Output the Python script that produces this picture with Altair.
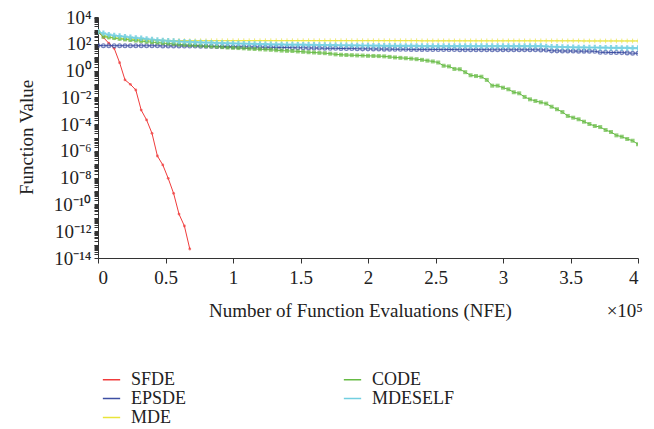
import altair as alt
import pandas as pd

# x grid: function evaluations, one sample every 4000 NFE
nfe = list(range(0, 400001, 4000))

# log10 of function value
sfde_log = [2.90, 2.47, 2.04, 1.66, 0.59, -0.70, -1.03, -1.45, -2.95, -3.69,
            -4.69, -6.38, -7.05, -8.05, -9.17, -10.72, -11.61, -13.33]

epsde_log = [1.87, 1.86, 1.86, 1.86, 1.86, 1.85, 1.85, 1.85, 1.85, 1.85,
             1.85, 1.85, 1.84, 1.84, 1.84, 1.84, 1.83, 1.83, 1.83, 1.82,
             1.82, 1.81, 1.80, 1.80, 1.79, 1.78, 1.78, 1.77, 1.76, 1.76,
             1.75, 1.74, 1.74, 1.73, 1.72, 1.72, 1.71, 1.70, 1.70, 1.69,
             1.68, 1.68, 1.67, 1.66, 1.66, 1.65, 1.64, 1.64, 1.63, 1.62,
             1.62, 1.61, 1.61, 1.60, 1.60, 1.59, 1.59, 1.59, 1.58, 1.58,
             1.58, 1.58, 1.57, 1.57, 1.57, 1.57, 1.57, 1.56, 1.56, 1.56,
             1.56, 1.56, 1.56, 1.55, 1.55, 1.55, 1.55, 1.55, 1.55, 1.55,
             1.55, 1.55, 1.54, 1.54, 1.47, 1.47, 1.46, 1.46, 1.46, 1.45,
             1.45, 1.45, 1.44, 1.36, 1.36, 1.35, 1.35, 1.34, 1.32, 1.30,
             1.29]

mde_log = [2.90, 2.62, 2.50, 2.44, 2.40, 2.37, 2.34, 2.32, 2.30, 2.28,
           2.27, 2.26, 2.25, 2.25, 2.24, 2.24, 2.24, 2.23, 2.23, 2.23,
           2.23, 2.23, 2.23, 2.23, 2.23, 2.23, 2.23, 2.23, 2.23, 2.23,
           2.23, 2.23, 2.23, 2.23, 2.23, 2.23, 2.23, 2.23, 2.23, 2.23,
           2.23, 2.23, 2.23, 2.23, 2.23, 2.23, 2.23, 2.23, 2.23, 2.23,
           2.23, 2.23, 2.23, 2.23, 2.23, 2.23, 2.23, 2.23, 2.23, 2.23,
           2.22, 2.22, 2.22, 2.22, 2.22, 2.22, 2.22, 2.22, 2.22, 2.22,
           2.22, 2.22, 2.22, 2.22, 2.22, 2.22, 2.22, 2.22, 2.22, 2.22,
           2.22, 2.22, 2.22, 2.22, 2.22, 2.22, 2.22, 2.22, 2.22, 2.22,
           2.21, 2.21, 2.21, 2.21, 2.21, 2.21, 2.21, 2.21, 2.21, 2.21,
           2.21]

code_log = [2.90, 2.53, 2.48, 2.43, 2.37, 2.33, 2.28, 2.24, 2.20, 2.16,
            2.12, 2.09, 2.05, 2.02, 1.99, 1.95, 1.92, 1.90, 1.88, 1.86,
            1.82, 1.80, 1.78, 1.75, 1.72, 1.70, 1.68, 1.66, 1.63, 1.61,
            1.59, 1.57, 1.55, 1.52, 1.49, 1.47, 1.46, 1.43, 1.40, 1.37,
            1.35, 1.32, 1.30, 1.26, 1.21, 1.18, 1.16, 1.15, 1.13, 1.12,
            1.10, 1.09, 1.08, 1.06, 1.02, 0.98, 0.95, 0.92, 0.89, 0.85,
            0.80, 0.74, 0.68, 0.60, 0.36, 0.31, 0.12, 0.10, -0.12, -0.35,
            -0.41, -0.46, -0.70, -1.13, -1.13, -1.28, -1.40, -1.62, -1.70, -1.97,
            -2.15, -2.27, -2.37, -2.47, -2.70, -2.89, -3.10, -3.39, -3.52, -3.64,
            -3.82, -3.99, -4.14, -4.22, -4.44, -4.59, -4.84, -4.94, -5.11, -5.24,
            -5.51]

mdeself_log = [2.90, 2.78, 2.68, 2.62, 2.58, 2.53, 2.48, 2.44, 2.41, 2.36,
               2.32, 2.28, 2.25, 2.22, 2.20, 2.17, 2.15, 2.14, 2.12, 2.10,
               2.09, 2.08, 2.06, 2.05, 2.04, 2.03, 2.02, 2.01, 2.00, 1.99,
               1.98, 1.97, 1.96, 1.95, 1.95, 1.94, 1.94, 1.93, 1.93, 1.92,
               1.92, 1.91, 1.91, 1.90, 1.90, 1.89, 1.89, 1.88, 1.88, 1.87,
               1.87, 1.86, 1.86, 1.85, 1.85, 1.85, 1.84, 1.84, 1.84, 1.84,
               1.83, 1.83, 1.83, 1.83, 1.83, 1.83, 1.83, 1.83, 1.83, 1.83,
               1.83, 1.83, 1.83, 1.83, 1.83, 1.83, 1.83, 1.83, 1.83, 1.83,
               1.83, 1.83, 1.83, 1.80, 1.78, 1.77, 1.76, 1.75, 1.74, 1.73,
               1.73, 1.72, 1.72, 1.71, 1.71, 1.70, 1.70, 1.69, 1.69, 1.68,
               1.68]

series_names = ["SFDE", "EPSDE", "MDE", "CODE", "MDESELF"]
series_colors = ["#f03c3c", "#3d4fa3", "#e9e43a", "#66bb44", "#72cfe0"]

y_labels = ["10⁻¹⁴", "10⁻¹²", "10⁻¹⁰", "10⁻⁸", "10⁻⁶", "10⁻⁴", "10⁻²", "10⁰", "10²", "10⁴"]
x_ticks = [0, 50000, 100000, 150000, 200000, 250000, 300000, 350000, 400000]

rows = []
for name, vals in zip(series_names, [sfde_log, epsde_log, mde_log, code_log, mdeself_log]):
    for i, v in enumerate(vals):
        rows.append({"series": name, "nfe": nfe[i], "value": 10 ** v})
df = pd.DataFrame(rows)

color_map = dict(zip(series_names, series_colors))
font = "Liberation Serif"
fs = 19

label_js = "[" + ",".join("'" + s + "'" for s in y_labels) + "]"
y_label_expr = (
    "(abs(log(datum.value)/LN10 - round(log(datum.value)/LN10)) < 0.001 && "
    "round(log(datum.value)/LN10) % 2 == 0) ? "
    + label_js + "[(round(log(datum.value)/LN10) + 14) / 2] : ''"
)

x_enc = alt.X(
    "nfe:Q",
    scale=alt.Scale(domain=[0, 400000], nice=False),
    axis=alt.Axis(
        values=x_ticks,
        labelExpr="format(datum.value/100000, '~g')",
        title="Number of Function Evaluations (NFE)",
        titlePadding=14,
        titleX=262,
        labelPadding=5,
        tickSize=5,
        grid=False,
    ),
)
y_enc = alt.Y(
    "value:Q",
    scale=alt.Scale(type="log", domain=[1e-14, 1e4], nice=False),
    axis=alt.Axis(
        tickCount=40,
        labelExpr=y_label_expr,
        labelOverlap=False,
        title="Function Value",
        titleX=-72,
        titleY=120,
        titleBaseline="middle",
        tickSize=4,
        labelPadding=3,
        grid=False,
    ),
)

base = alt.Chart(df)

lines = base.mark_line(strokeWidth=1, clip=True).encode(
    x=x_enc,
    y=y_enc,
    color=alt.Color(
        "series:N",
        scale=alt.Scale(domain=series_names, range=series_colors),
        legend=alt.Legend(
            title=None,
            orient="none",
            legendX=4,
            legendY=353,
            columns=2,
            columnPadding=153,
            rowPadding=0,
            symbolType="stroke",
            symbolSize=300,
            symbolStrokeWidth=1.5,
            labelFont=font,
            labelFontSize=18,
            labelColor="#222222",
            labelOffset=10,
        ),
    ),
    order="nfe:Q",
)

plus_path = "M-1,0H1M0,-1V1"
marker_specs = {
    "SFDE": dict(shape="circle", size=8, filled=True),
    "EPSDE": dict(shape="circle", size=14, filled=False, strokeWidth=1.3),
    "MDE": dict(shape=plus_path, size=22, filled=False, strokeWidth=1),
    "CODE": dict(shape="square", size=16, filled=True),
    "MDESELF": dict(shape="cross", size=30, filled=True, opacity=0.85),
}

point_layers = []
for name in series_names:
    spec = dict(marker_specs[name])
    point_layers.append(
        base.transform_filter(alt.datum.series == name)
        .mark_point(color=color_map[name], clip=True, **spec)
        .encode(x="nfe:Q", y="value:Q")
    )

xlabel = alt.Chart(pd.DataFrame({"t": ["×10⁵"]})).mark_text(
    font=font, fontSize=fs, align="right", baseline="middle", color="#222222"
).encode(x=alt.value(545), y=alt.value(294), text="t:N")

chart = alt.layer(lines, *point_layers, xlabel).properties(
    width=540,
    height=241,
    padding={"left": 98, "top": 17, "right": 16, "bottom": 171},
    autosize=alt.AutoSizeParams(type="none"),
).configure_view(stroke=None).configure_axis(
    labelFont=font,
    titleFont=font,
    labelFontSize=fs,
    titleFontSize=fs,
    titleFontWeight="normal",
    labelColor="#222222",
    titleColor="#222222",
    domainColor="#333333",
    tickColor="#333333",
)

chart.save("out.html", embed_options={"renderer": "svg", "actions": False})
